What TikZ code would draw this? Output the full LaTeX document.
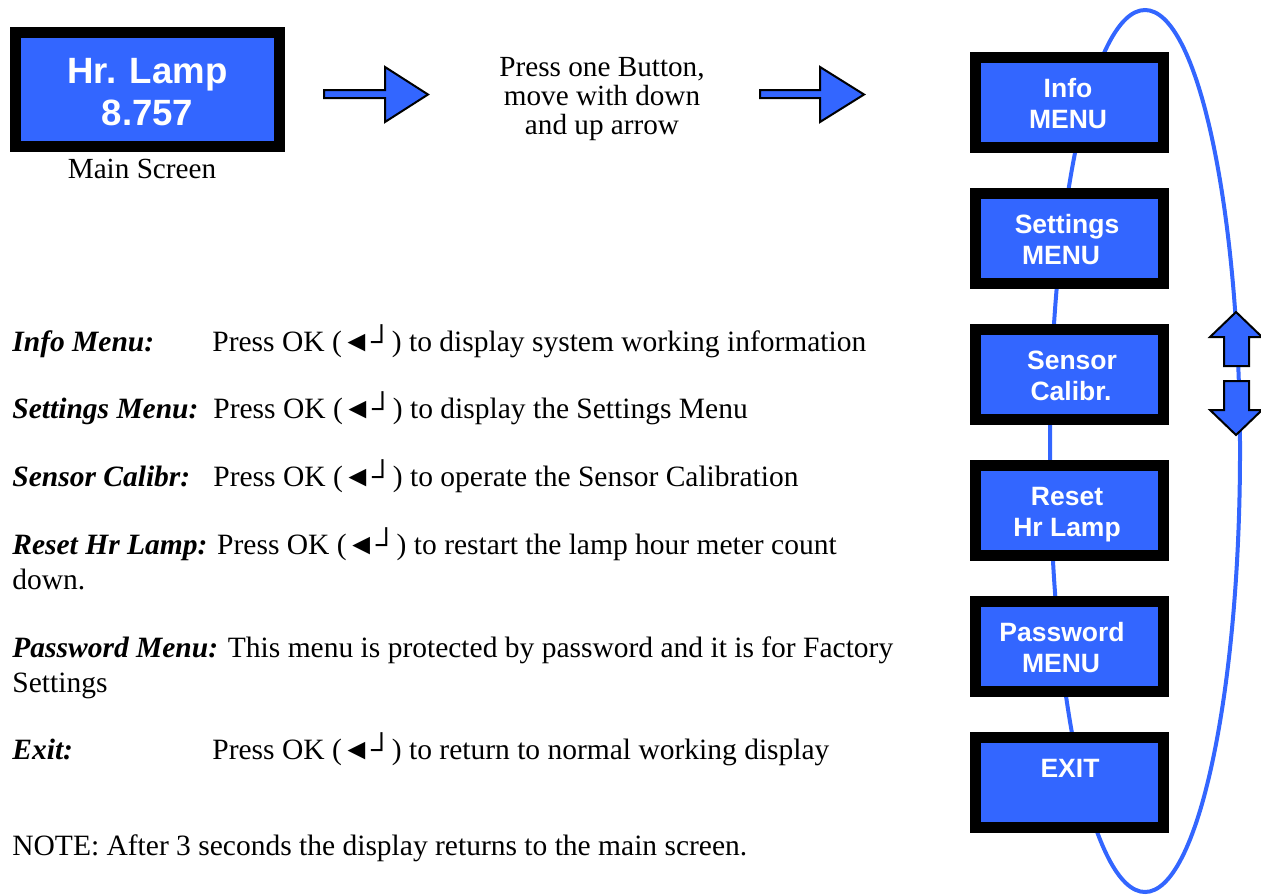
\documentclass[tikz,border=0pt]{standalone}
\usepackage{fontspec}
\setmainfont{Liberation Serif}
\newfontfamily\arialfont{Liberation Sans}
\definecolor{menublue}{RGB}{51,102,255}
\tikzset{
  screenbox/.style={draw=black, fill=menublue, line width=5.5pt, inner sep=0pt},
  menubox/.style={screenbox, minimum width=94pt, minimum height=45pt},
  menutxt/.style={anchor=base, inner sep=0pt, text=white, font=\arialfont\bfseries\fontsize{13.25}{15}\selectfont},
  screentxt/.style={anchor=base, inner sep=0pt, text=white, font=\arialfont\bfseries\fontsize{18.3}{21}\selectfont},
  bodytxt/.style={anchor=base west, inner sep=0pt, font=\fontsize{14.75}{17}\selectfont},
  smalltxt/.style={anchor=base, inner sep=0pt, font=\fontsize{14.6}{17}\selectfont},
  bigarrow/.style={draw=black, fill=menublue, line width=1pt, line join=miter},
  loopline/.style={draw=menublue, line width=2pt}
}
\newcommand{\okkey}{(◄┘)}
\begin{document}
\begin{tikzpicture}[x=0.5pt, y=-0.5pt]
\useasboundingbox (0,0) rectangle (1261,894);
% loop ellipse
\draw[loopline] (1145,451) ellipse [x radius=95, y radius=441];
% main screen
\node[screenbox, minimum width=132pt, minimum height=57pt] (main) at (147.5,89.5) {};
\node[screentxt] (mainA) at (147.5,83) {Hr. Lamp};
\node[screentxt] (mainB) at (147.5,125) {8.757};
\node[smalltxt] (mainlbl) at (142,178) {Main Screen};
% arrows
\draw[bigarrow] (324,90) -- (385,90) -- (385,67) -- (428,94.5) -- (385,122) -- (385,98) -- (324,98) -- cycle;
\draw[bigarrow] (760,90) -- (820,90) -- (820,67) -- (864,94.5) -- (820,122) -- (820,98) -- (760,98) -- cycle;
% middle text
\node[smalltxt] (midA) at (602,76) {Press one Button,};
\node[smalltxt] (midB) at (602,105) {move with down};
\node[smalltxt] (midC) at (602,134) {and up arrow};
% menu boxes
\node[menubox] (info) at (1069.5,102.5) {};
\node[menubox] (settings) at (1069.5,238.5) {};
\node[menubox] (sensor) at (1069.5,374.5) {};
\node[menubox] (reset) at (1069.5,510.5) {};
\node[menubox] (password) at (1069.5,646.5) {};
\node[menubox] (exit) at (1069.5,782.5) {};
\node[menutxt] (infoA) at (1068,97) {Info};
\node[menutxt] (infoB) at (1068,128) {MENU};
\node[menutxt] (setA) at (1067,233) {Settings};
\node[menutxt] (setB) at (1061,264) {MENU};
\node[menutxt] (senA) at (1072,369) {Sensor};
\node[menutxt] (senB) at (1071,400) {Calibr.};
\node[menutxt] (resA) at (1067,505) {Reset};
\node[menutxt] (resB) at (1067,536) {Hr Lamp};
\node[menutxt] (pasA) at (1062,641) {Password};
\node[menutxt] (pasB) at (1061,672) {MENU};
\node[menutxt] (exA) at (1070,777) {EXIT};
% up / down arrows
\draw[bigarrow] (1236,312) -- (1262,337) -- (1249,337) -- (1249,366) -- (1224,366) -- (1224,337) -- (1210,337) -- cycle;
\draw[bigarrow] (1236,435) -- (1262,410) -- (1249,410) -- (1249,381) -- (1224,381) -- (1224,410) -- (1210,410) -- cycle;
% body text
\node[bodytxt] (l1a) at (12,351) {\textbf{\textit{Info Menu:}}};
\node[bodytxt] (l1b) at (212,351) {Press OK \okkey{} to display system working information};
\node[bodytxt] (l2a) at (12,418) {\textbf{\textit{Settings Menu:}}};
\node[bodytxt] (l2b) at (213,418) {Press OK \okkey{} to display the Settings Menu};
\node[bodytxt] (l3a) at (12,486) {\textbf{\textit{Sensor Calibr:}}};
\node[bodytxt] (l3b) at (213,486) {Press OK \okkey{} to operate the Sensor Calibration};
\node[bodytxt] (l4a) at (12,554) {\textbf{\textit{Reset Hr Lamp:}} Press OK \okkey{} to restart the lamp hour meter count};
\node[bodytxt] (l4b) at (12,589) {down.};
\node[bodytxt] (l5a) at (12,657) {\textbf{\textit{Password Menu:}} This menu is protected by password and it is for Factory};
\node[bodytxt] (l5b) at (12,692) {Settings};
\node[bodytxt] (l6a) at (12,759) {\textbf{\textit{Exit:}}};
\node[bodytxt] (l6b) at (212,759) {Press OK \okkey{} to return to normal working display};
\node[bodytxt] (note) at (12,855) {NOTE: After 3 seconds the display returns to the main screen.};
\end{tikzpicture}
\end{document}
